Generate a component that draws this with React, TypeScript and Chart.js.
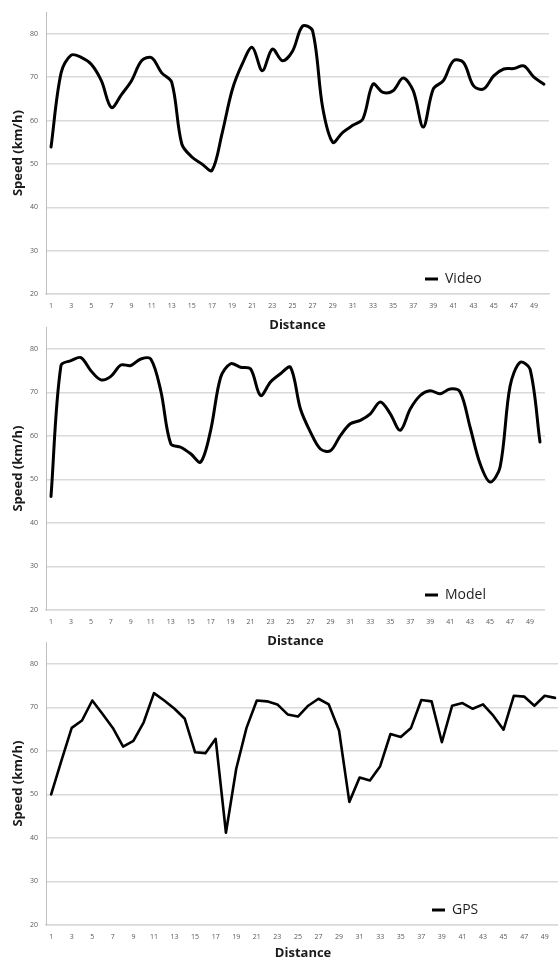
import React, { useEffect, useRef } from 'react';
import { Chart, registerables } from 'chart.js';

Chart.register(...registerables);

const distanceLabels = [
  '1', '2', '3', '4', '5', '6', '7', '8', '9', '10',
  '11', '12', '13', '14', '15', '16', '17', '18', '19', '20',
  '21', '22', '23', '24', '25', '26', '27', '28', '29', '30',
  '31', '32', '33', '34', '35', '36', '37', '38', '39', '40',
  '41', '42', '43', '44', '45', '46', '47', '48', '49', '50',
];

const videoSpeed = [
  53.9, 71, 75.1, 74.6, 73, 69.2, 63, 66, 69.2, 73.8,
  74.5, 71, 68.8, 54.6, 51.6, 50, 48.5, 57, 67, 73,
  76.9, 71.5, 76.5, 73.8, 76, 81.8, 80.7, 63, 55, 57.3,
  58.9, 60.4, 68.4, 66.5, 66.9, 69.8, 66.9, 58.5, 67.3, 69.2,
  73.8, 73.4, 68, 67.3, 70.3, 71.9, 72, 72.6, 70, 68.4,
];

const modelSpeed = [
  46.1, 76.2, 77.3, 78, 75, 72.9, 73.7, 76.3, 76.2, 77.7,
  77.7, 70.4, 58.2, 57.4, 55.9, 54, 61.3, 73.5, 76.6, 75.8,
  75.4, 69.3, 72.4, 74.3, 75.8, 66.2, 60.9, 57, 56.6, 60.1,
  62.8, 63.6, 65.1, 67.8, 65.1, 61.3, 66.2, 69.3, 70.4, 69.7,
  70.8, 70.1, 62, 53.6, 49.4, 52.8, 71.4, 76.9, 75.4, 58.6,
];

const gpsSpeed = [
  50, 57.8, 65.3, 67, 71.6, 68.5, 65.3, 61, 62.3, 66.6,
  73.3, 71.6, 69.7, 67.4, 59.7, 59.5, 62.8, 41.2, 55.9, 65.3,
  71.6, 71.4, 70.7, 68.4, 67.9, 70.4, 72, 70.7, 64.7, 48.3,
  53.9, 53.2, 56.5, 63.9, 63.2, 65.3, 71.7, 71.4, 62, 70.4,
  71, 69.7, 70.7, 68.1, 64.9, 72.7, 72.5, 70.4, 72.7, 72.2,
];

const yTickValues = [20, 30, 40, 50, 60, 70, 80];
const yMin = 20;
const yMax = 85;
const xTitle = 'Distance';
const yTitle = 'Speed (km/h)';

const legendPlacer = {
  id: 'legendPlacer',
  afterLayout(chart: any, _args: any, opts: any) {
    const lg = chart.legend;
    if (!lg) return;
    lg.left = opts.x;
    lg.top = opts.y;
    lg.right = chart.width;
    lg.bottom = chart.height;
  },
};

type PanelProps = {
  label: string;
  data: number[];
  tension: number;
  lineWidth: number;
  plotTop: number;
  plotBottom: number;
  plotRight: number;
  titleY: number;
  legendX: number;
  legendY: number;
};

function SpeedPanel(p: PanelProps) {
  const ref = useRef<HTMLCanvasElement>(null);
  const canvasTop = p.plotTop - 12;
  const canvasHeight = Math.round(p.titleY + 10 - canvasTop);
  const canvasWidth = Math.ceil(p.plotRight) + 2;
  const legendFont = 14;

  useEffect(() => {
    if (!ref.current) return;
    const chart = new Chart(ref.current, {
      type: 'line',
      data: {
        labels: distanceLabels,
        datasets: [
          {
            label: p.label,
            data: p.data,
            borderColor: '#000000',
            backgroundColor: '#000000',
            borderWidth: p.lineWidth,
            pointRadius: 0,
            pointHoverRadius: 0,
            tension: p.tension,
            fill: false,
            borderJoinStyle: 'round',
            borderCapStyle: 'round',
          },
        ],
      },
      options: {
        animation: false,
        responsive: false,
        events: [],
        layout: {
          padding: { left: 0, top: 12, right: canvasWidth - p.plotRight, bottom: 0 },
        },
        plugins: {
          tooltip: { enabled: false },
          legend: {
            display: true,
            position: 'chartArea',
            align: 'start',
            labels: {
              boxWidth: 13,
              boxHeight: 3,
              padding: 0,
              color: '#1f1f1f',
              font: { family: 'Open Sans', size: legendFont },
              generateLabels: (c: any) =>
                Chart.defaults.plugins.legend.labels
                  .generateLabels(c)
                  .map((l: any) => ({ ...l, fillStyle: '#000000', strokeStyle: '#000000', lineWidth: 0 })),
            },
          },
          legendPlacer: {
            x: p.legendX,
            y: p.legendY - canvasTop - legendFont / 2,
          },
        } as any,
        scales: {
          x: {
            type: 'category',
            offset: true,
            grid: { display: false, drawTicks: false },
            border: { display: true, color: '#d9d9d9', width: 1.5 },
            ticks: {
              autoSkip: false,
              maxRotation: 0,
              minRotation: 0,
              padding: 8,
              color: '#595959',
              font: { family: 'Open Sans', size: 7 },
              callback: (_v: any, i: number) => (i % 2 === 0 ? distanceLabels[i] : ''),
            },
            title: {
              display: true,
              text: xTitle,
              color: '#1a1a1a',
              font: { family: 'Open Sans', size: 13, weight: 'bold' },
              padding: { top: 0, bottom: 2.2 },
            },
            afterFit: (s: any) => {
              s.height = canvasHeight - (p.plotBottom - canvasTop);
            },
          },
          y: {
            type: 'linear',
            min: yMin,
            max: yMax,
            grid: { color: '#d9d9d9', lineWidth: 1.5, drawTicks: false },
            border: { display: true, color: '#bfbfbf', width: 1 },
            ticks: {
              stepSize: 10,
              padding: 8,
              color: '#595959',
              font: { family: 'Open Sans', size: 7 },
            },
            afterBuildTicks: (s: any) => {
              s.ticks = yTickValues.map((v) => ({ value: v }));
            },
            title: {
              display: true,
              text: yTitle,
              color: '#1a1a1a',
              font: { family: 'Open Sans', size: 13, weight: 'bold' },
              padding: { top: 10, bottom: 0 },
            },
            afterFit: (s: any) => {
              s.width = 46;
            },
          },
        },
      } as any,
      plugins: [legendPlacer],
    });
    return () => chart.destroy();
  }, []);

  return (
    <canvas
      ref={ref}
      width={canvasWidth}
      height={canvasHeight}
      style={{
        position: 'absolute',
        left: 0,
        top: canvasTop,
        width: canvasWidth,
        height: canvasHeight,
      }}
    />
  );
}

export default function App() {
  return (
    <div
      style={{
        position: 'absolute',
        left: 0,
        top: 0,
        width: 558,
        height: 960,
        overflow: 'hidden',
        background: '#ffffff',
      }}
    >
      <SpeedPanel
        label="Video"
        data={videoSpeed}
        tension={0.33}
        lineWidth={3}
        plotTop={12}
        plotBottom={294}
        plotRight={550}
        titleY={325}
        legendX={425}
        legendY={279}
      />
      <SpeedPanel
        label="Model"
        data={modelSpeed}
        tension={0.33}
        lineWidth={3}
        plotTop={327}
        plotBottom={610}
        plotRight={545.5}
        titleY={640.5}
        legendX={425}
        legendY={595}
      />
      <SpeedPanel
        label="GPS"
        data={gpsSpeed}
        tension={0}
        lineWidth={2.6}
        plotTop={642}
        plotBottom={925}
        plotRight={561}
        titleY={953}
        legendX={432}
        legendY={910}
      />
    </div>
  );
}
